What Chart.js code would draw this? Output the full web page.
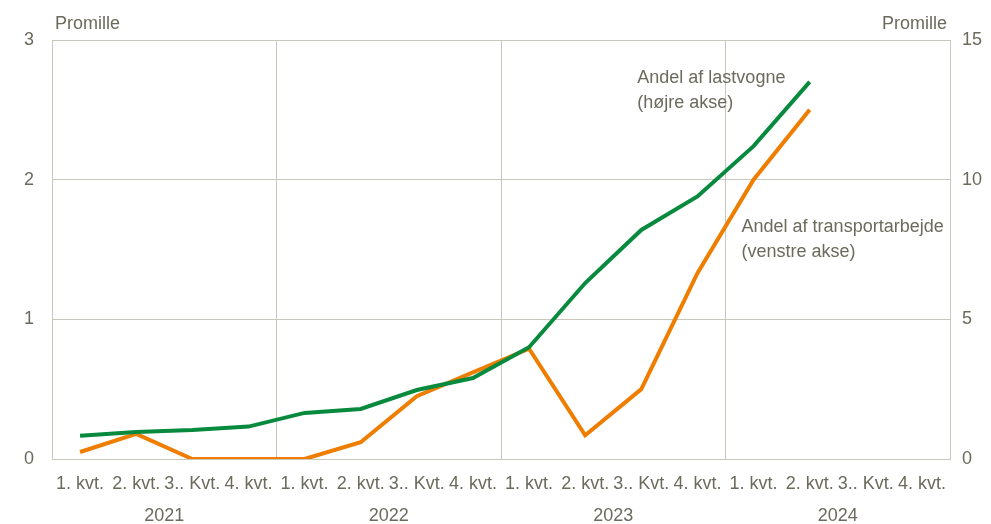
<!DOCTYPE html>
<html>
<head>
<meta charset="utf-8">
<script src="https://cdn.jsdelivr.net/npm/chart.js@4"></script>
<style>
  html, body { margin: 0; padding: 0; background: #fff; }
  #wrap { width: 991px; height: 524px; }
</style>
</head>
<body>
<div id="wrap"><canvas id="chart"></canvas></div>
<script>
// Data
const quarters = ['1. kvt.', '2. kvt.', '3.. Kvt.', '4. kvt.',
                  '1. kvt.', '2. kvt.', '3.. Kvt.', '4. kvt.',
                  '1. kvt.', '2. kvt.', '3.. Kvt.', '4. kvt.',
                  '1. kvt.', '2. kvt.', '3.. Kvt.', '4. kvt.'];
const years = ['2021', '2022', '2023', '2024'];
const transportShare = [0.05, 0.18, 0, 0, 0, 0.12, 0.45, 0.62, 0.79, 0.17, 0.50, 1.33, 2.0, 2.5, null, null];
const truckShare = [0.83, 0.97, 1.04, 1.16, 1.65, 1.79, 2.47, 2.9, 4.0, 6.3, 8.2, 9.4, 11.2, 13.5, null, null];
const leftTicks = [0, 1, 2, 3];
const rightTicks = [0, 5, 10, 15];

const textColor = '#6b6a5c';
const gridColor = '#c9c7bc';
const fontFamily = "'Liberation Sans Narrow', 'Arial Narrow', 'Liberation Sans', Arial, sans-serif";

// Labels drawn on the chart
const labelsPlugin = {
    id: 'labels',
    afterDraw(chart) {
        const ctx = chart.ctx;
        const area = chart.chartArea;
        const x = chart.scales.x;
        const yL = chart.scales.yL;
        ctx.save();
        ctx.fillStyle = textColor;
        ctx.font = '18px ' + fontFamily;
        ctx.textBaseline = 'middle';
        ctx.textAlign = 'left';
        ctx.fillText('Promille', area.left + 3, 24);
        ctx.textAlign = 'right';
        ctx.fillText('Promille', area.right - 3, 24);
        ctx.textAlign = 'left';
        const x1 = x.getPixelForValue(10) - 4;
        ctx.fillText('Andel af lastvogne', x1, yL.getPixelForValue(2.73));
        ctx.fillText('(højre akse)', x1, yL.getPixelForValue(2.55));
        const x2 = x.getPixelForValue(12) - 12;
        ctx.fillText('Andel af transportarbejde', x2, yL.getPixelForValue(1.66));
        ctx.fillText('(venstre akse)', x2, yL.getPixelForValue(1.48));
        ctx.restore();
    }
};

new Chart(document.getElementById('chart'), {
    type: 'line',
    data: {
        labels: quarters,
        datasets: [{
            label: 'Andel af transportarbejde',
            data: transportShare,
            yAxisID: 'yL',
            borderColor: '#ef7d00',
            borderWidth: 4,
            pointRadius: 0,
            tension: 0,
            order: 2
        }, {
            label: 'Andel af lastvogne',
            data: truckShare,
            yAxisID: 'yR',
            borderColor: '#078a3e',
            borderWidth: 4,
            pointRadius: 0,
            tension: 0,
            order: 1
        }]
    },
    options: {
        responsive: true,
        maintainAspectRatio: false,
        animation: false,
        layout: { padding: { top: 40, left: 0, right: 0, bottom: 0 } },
        plugins: {
            legend: { display: false },
            tooltip: { enabled: false }
        },
        scales: {
            x: {
                type: 'category',
                offset: true,
                grid: { display: false },
                border: { display: true, color: gridColor, width: 1 },
                ticks: {
                    color: textColor,
                    font: { family: fontFamily, size: 18 },
                    maxRotation: 0,
                    autoSkip: false,
                    padding: 6
                },
                afterFit: (s) => { s.height = 34; }
            },
            years: {
                type: 'category',
                position: 'bottom',
                labels: years,
                offset: true,
                grid: { display: true, color: gridColor, drawTicks: false, offset: true },
                border: { display: false },
                ticks: {
                    color: textColor,
                    font: { family: fontFamily, size: 18 },
                    maxRotation: 0,
                    padding: 12
                },
                afterFit: (s) => { s.height = 31; }
            },
            yL: {
                position: 'left',
                min: 0,
                max: 3,
                afterBuildTicks: (s) => { s.ticks = leftTicks.map(v => ({ value: v })); },
                grid: { color: gridColor, drawTicks: false },
                border: { display: true, color: gridColor },
                ticks: {
                    color: textColor,
                    font: { family: fontFamily, size: 18 },
                    padding: 18
                },
                afterFit: (s) => { s.width = 52; }
            },
            yR: {
                position: 'right',
                min: 0,
                max: 15,
                afterBuildTicks: (s) => { s.ticks = rightTicks.map(v => ({ value: v })); },
                grid: { display: false, drawTicks: false },
                border: { display: true, color: gridColor },
                ticks: {
                    color: textColor,
                    font: { family: fontFamily, size: 18 },
                    padding: 12
                },
                afterFit: (s) => { s.width = 41; }
            }
        }
    },
    plugins: [labelsPlugin]
});
</script>
</body>
</html>
